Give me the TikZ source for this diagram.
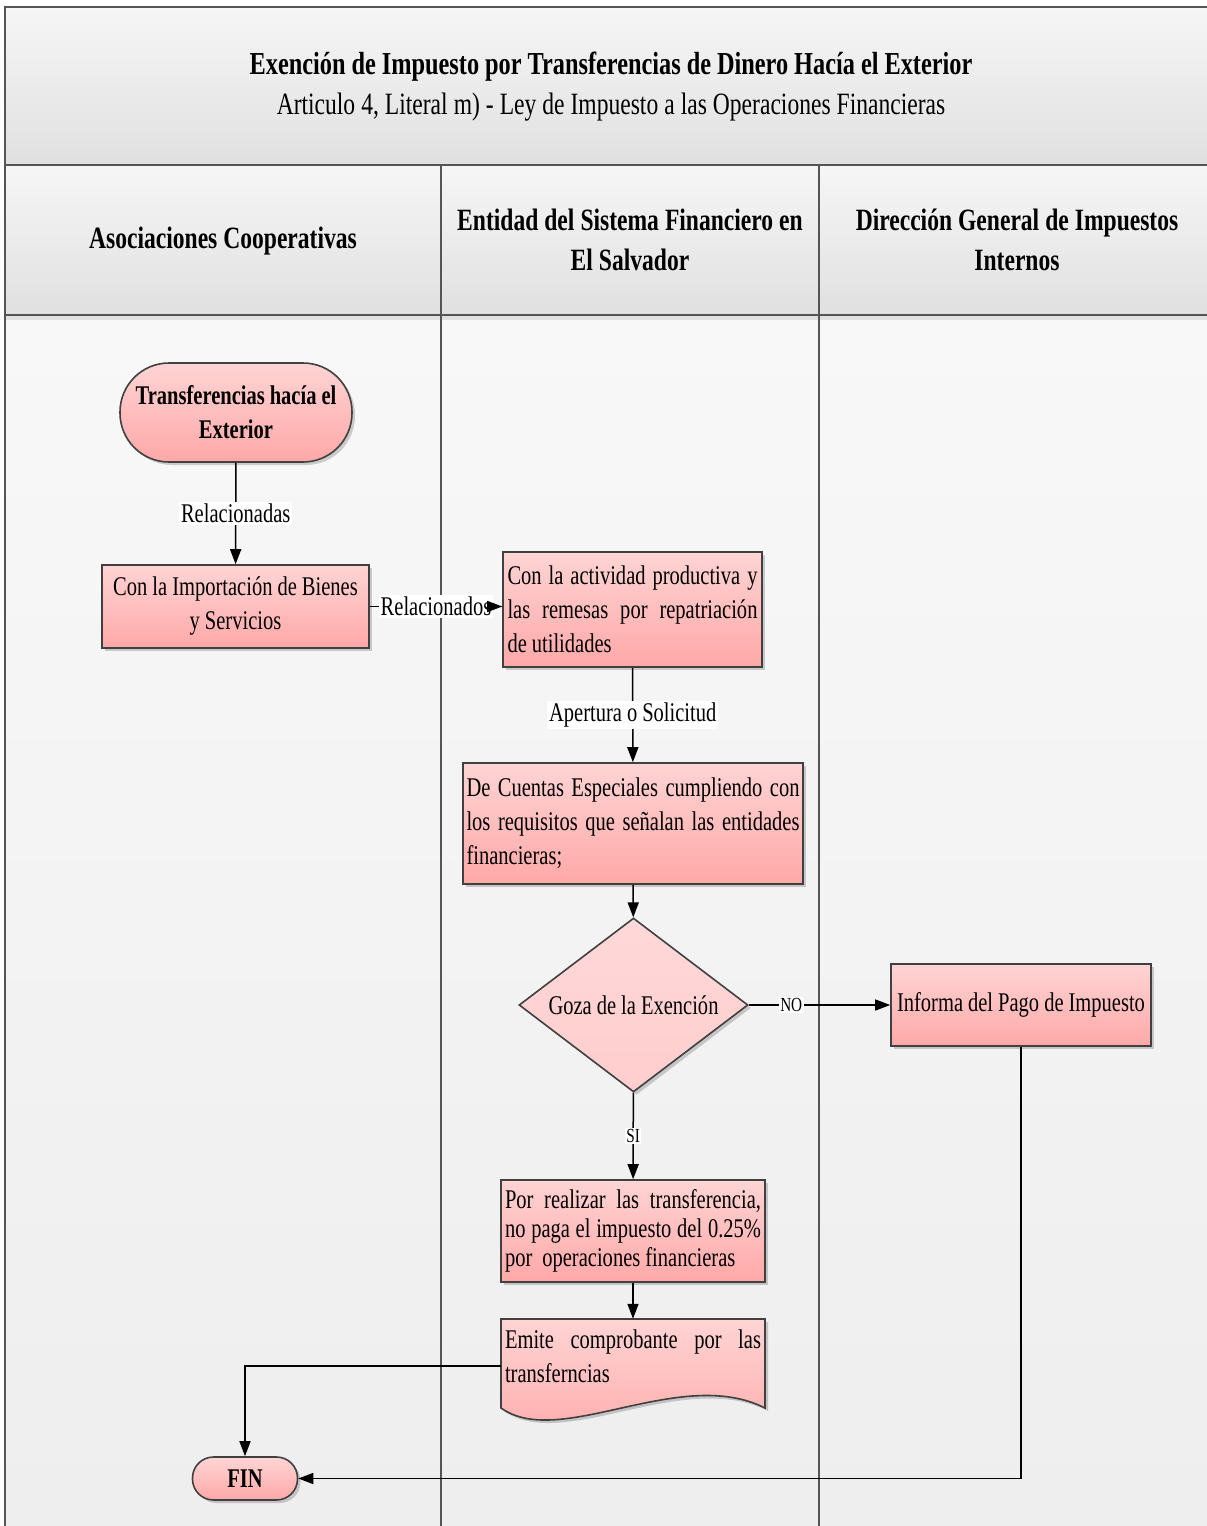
\documentclass[tikz,border=0pt]{standalone}
\usepackage{fontspec}
\usepackage{graphicx}
\setmainfont{Liberation Serif}[FakeStretch=0.76]
\usetikzlibrary{arrows.meta,shapes.geometric,shadows}
\definecolor{pinkT}{HTML}{FFD4D4}
\definecolor{pinkB}{HTML}{FFA8A8}
\definecolor{dmdT}{HTML}{FFD8D8}
\definecolor{dmdB}{HTML}{FFCDCD}
\definecolor{edgec}{HTML}{404040}
\definecolor{hdrT}{HTML}{F6F6F6}
\definecolor{hdrB}{HTML}{E0E0E0}
\definecolor{laneT}{HTML}{F8F8F8}
\definecolor{laneB}{HTML}{EEEEEE}
\definecolor{framec}{HTML}{555555}
\newcommand\fs[3]{\fontsize{#1}{#2}\selectfont\spaceskip=#3pt plus 6pt minus 2pt\relax}
\newcommand\jl[2]{\setbox0=\hbox{#2}\ifdim\wd0>#1\relax\resizebox{#1}{\height}{#2}\else\makebox[#1][s]{#2}\fi}
\begin{document}
\begin{tikzpicture}[x=1pt,y=-1pt,
  shad/.style={drop shadow={shadow xshift=3pt,shadow yshift=-3pt,fill=black,opacity=0.18}},
  procbox/.style={draw=edgec, line width=1.6pt, top color=pinkT, bottom color=pinkB, shad,
    inner sep=0pt, font={\fs{27}{34}{5}}},
  termbox/.style={procbox, rounded corners=#1, font={\bfseries\fs{27}{34}{5}}},
  conn/.style={draw=black, line width=1.5pt, -{Triangle[length=15pt,width=11pt]}},
  plain/.style={draw=black, line width=1.5pt},
  lbl/.style={fill=white, inner sep=2pt, font={\fs{27}{30}{5}}},
  slbl/.style={fill=white, inner sep=1.5pt, font={\fs{20}{22}{4}}},
  hdr/.style={font={\bfseries\fs{31}{40}{6}}, align=center},
  frame/.style={draw=framec, line width=1.8pt}
]
\useasboundingbox (0,0) rectangle (1207,1526);
% lanes background
\fill[white] (0,0) rectangle (1207,1526);
\shade[top color=laneT, bottom color=laneB] (5,315) rectangle (441,1526);
\shade[top color=laneT, bottom color=laneB] (441,315) rectangle (819,1526);
\shade[top color=laneT, bottom color=laneB] (819,315) rectangle (1207,1526);
% title band and header row
\shade[top color=hdrT, bottom color=hdrB] (5,7) rectangle (1207,165);
\shade[top color=hdrT, bottom color=hdrB] (5,165) rectangle (441,315);
\shade[top color=hdrT, bottom color=hdrB] (441,165) rectangle (819,315);
\shade[top color=hdrT, bottom color=hdrB] (819,165) rectangle (1207,315);
\fill[black!12] (5,316) rectangle (1207,320);
% frame lines
\draw[frame] (5,1526) -- (5,7) -- (1207,7);
\draw[frame] (5,165) -- (1207,165);
\draw[draw=framec, line width=2.8pt] (5,315) -- (1207,315);
\draw[frame] (441,165) -- (441,1526);
\draw[frame] (819,165) -- (819,1526);
% title texts
\node[font={\bfseries\fs{32}{34}{6}}] (title) at (611,67) {Exención de Impuesto por Transferencias de Dinero Hacía el Exterior};
\node[font={\fs{31}{34}{6}}] (subtitle) at (611,107) {Articulo 4, Literal m) - Ley de Impuesto a las Operaciones Financieras};
% lane headers
\node[hdr] (h1) at (223,241) {Asociaciones Cooperativas};
\node[hdr] (h2) at (630,240) {Entidad del Sistema Financiero en\\El Salvador};
\node[hdr] (h3) at (1017,240) {Dirección General de Impuestos\\Internos};
% nodes
\node[termbox=49pt, minimum width=232pt, minimum height=99pt, align=center] (start) at (236,412.5)
  {Transferencias hacía el\\Exterior};
\node[procbox, minimum width=267pt, minimum height=83pt, align=center] (b1) at (235.5,606.5)
  {Con la Importación de Bienes\\y Servicios};
\node[procbox, minimum width=259pt, minimum height=115pt, text width=250pt, align=flush left] (b2) at (632.5,609.5)
  {\jl{250pt}{Con la actividad productiva y}\\\jl{250pt}{las remesas por repatriación}\\de utilidades};
\node[procbox, minimum width=340pt, minimum height=121pt, text width=333pt, align=flush left] (b3) at (633,823.5)
  {\jl{333pt}{De Cuentas Especiales cumpliendo con}\\\jl{333pt}{los requisitos que señalan las entidades}\\financieras;};
\node[draw=edgec, line width=1.6pt, diamond, top color=dmdT, bottom color=dmdB, shad,
  minimum width=229pt, minimum height=174pt, inner sep=0pt, aspect=1.3,
  font={\fs{27}{34}{5}}] (dec) at (633.5,1005) {Goza de la Exención};
\node[procbox, minimum width=260pt, minimum height=82pt, align=center] (b4) at (1021,1005)
  {Informa del Pago de Impuesto};
\node[procbox, minimum width=264pt, minimum height=102pt, text width=256pt, align=flush left,
  font={\fs{27}{29}{5}}] (b5) at (633,1231)
  {\jl{256pt}{Por realizar las transferencia,}\\\jl{256pt}{no paga el impuesto del 0.25\%}\\por~ operaciones financieras};
% document shape
\fill[black, opacity=0.18] (504,1322) -- (768,1322) -- (768,1411)
  .. controls (683,1368) and (563,1453) .. (504,1411) -- cycle;
\shade[top color=pinkT, bottom color=pinkB, draw=edgec, line width=1.6pt]
  (501,1319) -- (765,1319) -- (765,1408)
  .. controls (680,1365) and (560,1450) .. (501,1408) -- cycle;
\node[minimum width=264pt, minimum height=94pt, inner sep=0pt] (doc) at (633,1366) {};
\node[text width=256pt, align=flush left, font={\fs{27}{34}{5}}, anchor=north] (doctext) at (633,1326)
  {\jl{256pt}{Emite comprobante por las}\\transferncias};
\node[termbox=21pt, minimum width=105pt, minimum height=43pt] (fin) at (245,1478.5) {FIN};
% connectors
\draw[conn] (start) -- node[lbl] {Relacionadas} (b1);
\draw[plain] (b1.east) -- node[lbl] {Relacionados} (b1.east -| b2.west);
\draw[conn] ([xshift=-14pt]b1.east -| b2.west) -- (b1.east -| b2.west);
\draw[conn] (b2) -- node[lbl] {Apertura o Solicitud} (b3);
\draw[conn] (b3) -- (dec);
\draw[conn] (dec) -- node[slbl, pos=0.3] {NO} (b4);
\draw[conn] (dec) -- node[slbl] {SI} (b5);
\draw[conn] (b5) -- (doc);
\draw[conn] (doc.west) -| (fin.north);
\draw[conn] (b4.south) |- (fin.east);
\end{tikzpicture}
\end{document}
